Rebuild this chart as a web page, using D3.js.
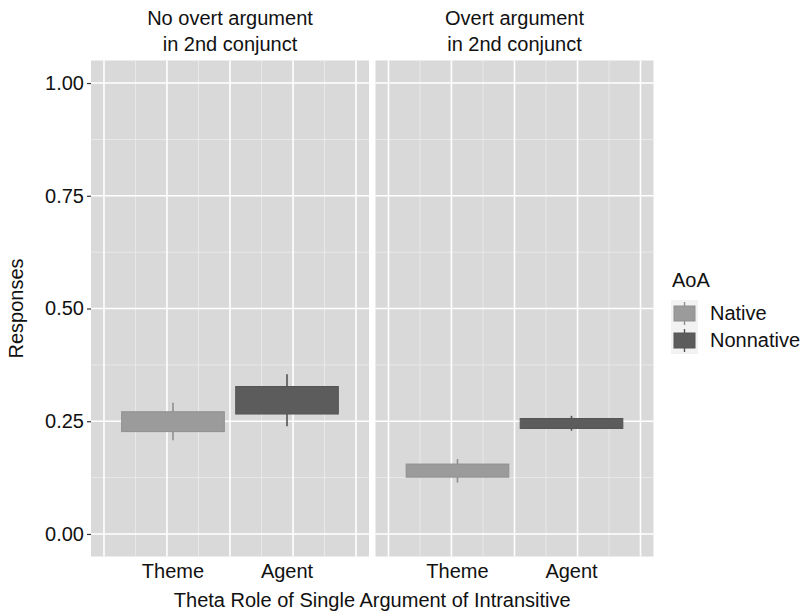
<!DOCTYPE html>
<html>
<head>
<meta charset="utf-8">
<script src="https://cdn.jsdelivr.net/npm/d3@7"></script>
<style>
  html, body { margin: 0; padding: 0; background: #ffffff; }
  svg { display: block; }
  text { font-family: "Liberation Sans", Arial, Helvetica, sans-serif; }
</style>
</head>
<body>
<svg id="chart" width="806" height="616"></svg>
<script>
// ---- data ----
const panelTitles = [["No overt argument", "in 2nd conjunct"], ["Overt argument", "in 2nd conjunct"]];
const categories = ["Theme", "Agent"];
const groups = ["Native", "Nonnative"];
const groupOfCategory = ["Native", "Nonnative"];
// per panel, per category
const boxLow     = [[0.227, 0.266], [0.126, 0.234]];
const boxHigh    = [[0.271, 0.327], [0.155, 0.256]];
const whiskerLow = [[0.208, 0.239], [0.114, 0.229]];
const whiskerHigh= [[0.291, 0.354], [0.166, 0.262]];
const yTicks = [0, 0.25, 0.5, 0.75, 1];
const yTickLabels = ["0.00", "0.25", "0.50", "0.75", "1.00"];
const yMinor = [0.125, 0.375, 0.625, 0.875];
const xMajorBreaks = [0.395, 0.947, 1.5, 2.053, 2.605];
const xMinorBreaks = [0.671, 1.224, 1.776, 2.329];
const legendTitle = "AoA";
const xTitle = "Theta Role of Single Argument of Intransitive";
const yTitle = "Responses";

// ---- styling ----
const fill = {Native: "#9b9b9b", Nonnative: "#5c5c5c"};
const edge = {Native: "#8f8f8f", Nonnative: "#545454"};
const fontSize = 20;

const svg = d3.select("#chart");
const panelTop = 60.5, panelBottom = 556.5;
const panelLefts = [91, 375.5];
const panelWidth = 278;

const y = d3.scaleLinear().domain([-0.05, 1.05]).range([panelBottom, panelTop]);
const catPos = d3.scaleOrdinal().domain(categories).range([1, 2]);

panelTitles.forEach((title, p) => {
  const x = d3.scaleLinear().domain([0.281, 2.719]).range([panelLefts[p], panelLefts[p] + panelWidth]);
  const g = svg.append("g");
  g.append("rect").attr("x", x.range()[0]).attr("y", panelTop)
    .attr("width", panelWidth).attr("height", panelBottom - panelTop).attr("fill", "#d9d9d9");
  // minor grid
  g.selectAll(".ymin").data(yMinor).enter().append("line")
    .attr("x1", x.range()[0]).attr("x2", x.range()[1])
    .attr("y1", d => y(d)).attr("y2", d => y(d))
    .attr("stroke", "#ececec").attr("stroke-width", 0.8);
  g.selectAll(".xmin").data(xMinorBreaks).enter().append("line")
    .attr("y1", panelTop).attr("y2", panelBottom)
    .attr("x1", d => x(d)).attr("x2", d => x(d))
    .attr("stroke", "#ececec").attr("stroke-width", 0.8);
  // major grid
  g.selectAll(".ymaj").data(yTicks).enter().append("line")
    .attr("x1", x.range()[0]).attr("x2", x.range()[1])
    .attr("y1", d => y(d)).attr("y2", d => y(d))
    .attr("stroke", "#ffffff").attr("stroke-width", 1.6);
  g.selectAll(".xmaj").data(xMajorBreaks).enter().append("line")
    .attr("y1", panelTop).attr("y2", panelBottom)
    .attr("x1", d => x(d)).attr("x2", d => x(d))
    .attr("stroke", "#ffffff").attr("stroke-width", 1.6);

  // marks
  categories.forEach((c, i) => {
    const grp = groupOfCategory[i];
    const cx = x(catPos(c));
    const hw = x(catPos(c) + 0.45) - cx;
    g.append("line")
      .attr("x1", cx).attr("x2", cx)
      .attr("y1", y(whiskerLow[p][i])).attr("y2", y(whiskerHigh[p][i]))
      .attr("stroke", edge[grp]).attr("stroke-width", 1.6);
    g.append("rect")
      .attr("x", cx - hw).attr("width", 2 * hw)
      .attr("y", y(boxHigh[p][i])).attr("height", y(boxLow[p][i]) - y(boxHigh[p][i]))
      .attr("fill", fill[grp]).attr("stroke", edge[grp]).attr("stroke-width", 1);
  });

  // x tick labels
  g.selectAll(".xl").data(categories).enter().append("text")
    .attr("x", d => x(catPos(d))).attr("y", 578)
    .attr("text-anchor", "middle").attr("font-size", fontSize).attr("fill", "#111")
    .text(d => d);

  // strip titles
  const cxp = panelLefts[p] + panelWidth / 2;
  title.forEach((line, li) => {
    g.append("text").attr("x", cxp).attr("y", 25 + li * 25.5)
      .attr("text-anchor", "middle").attr("font-size", fontSize).attr("fill", "#111")
      .text(line);
  });
});

// y axis
const yAxis = d3.axisLeft(y).tickValues(yTicks).tickFormat((d, i) => yTickLabels[i]).tickSize(4).tickPadding(3);
const ya = svg.append("g").attr("transform", `translate(${panelLefts[0]},0)`).call(yAxis);
ya.select(".domain").remove();
ya.selectAll(".tick line").attr("stroke", "#333").attr("stroke-width", 1.2);
ya.selectAll(".tick text").attr("font-size", fontSize).attr("fill", "#111")
  .attr("font-family", "Liberation Sans, Arial, sans-serif");

// axis titles
svg.append("text").attr("x", (panelLefts[0] + panelLefts[1] + panelWidth) / 2).attr("y", 607)
  .attr("text-anchor", "middle").attr("font-size", fontSize).attr("fill", "#111").text(xTitle);
svg.append("text").attr("transform", `translate(23,${(panelTop + panelBottom) / 2}) rotate(-90)`)
  .attr("text-anchor", "middle").attr("font-size", fontSize).attr("fill", "#111").text(yTitle);

// legend
const lg = svg.append("g");
lg.append("text").attr("x", 672).attr("y", 287).attr("font-size", fontSize).attr("fill", "#111").text(legendTitle);
groups.forEach((grp, i) => {
  const ky = 300 + i * 27;
  lg.append("rect").attr("x", 671).attr("y", ky).attr("width", 27).attr("height", 27).attr("fill", "#f2f2f2");
  lg.append("line").attr("x1", 684.5).attr("x2", 684.5).attr("y1", ky + 2).attr("y2", ky + 25)
    .attr("stroke", edge[grp]).attr("stroke-width", 1.4);
  lg.append("rect").attr("x", 674).attr("y", ky + 6).attr("width", 21).attr("height", 15)
    .attr("fill", fill[grp]).attr("stroke", edge[grp]).attr("stroke-width", 1);
  lg.append("text").attr("x", 710).attr("y", ky + 20).attr("font-size", fontSize).attr("fill", "#111").text(grp);
});
</script>
</body>
</html>
